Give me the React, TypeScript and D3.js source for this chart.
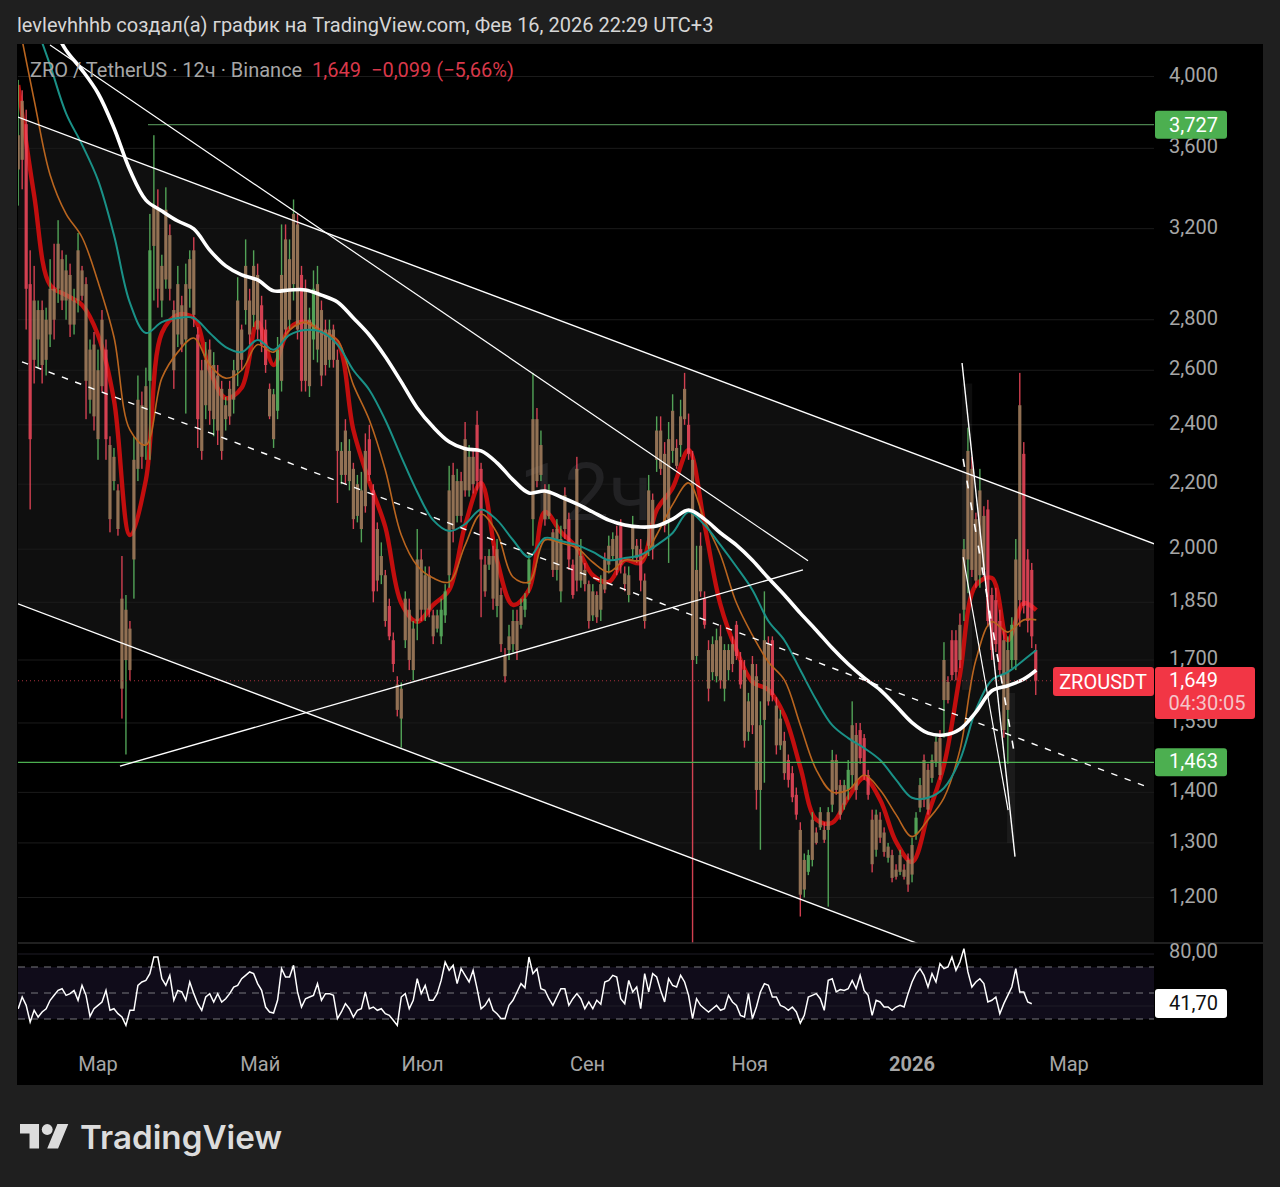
import * as d3 from "d3";

const WIDTH = 1280;
const HEIGHT = 1187;
const PANE = { left: 18, right: 1154, top: 44, bottom: 943, end: 1263, panelBottom: 1085 };
const FONT = "Roboto, sans-serif";
const GREEN = "#5dbb63";
const RED = "#f2495c";

// days are counted from 1 Mar 2025
const BAR_START = -30;
const BAR_STEP = 1.5;

const barHigh = [
  3.98, 3.92, 3.81, 3.10, 3.03, 2.88, 2.88, 2.85, 3.06, 3.13,
  3.24, 3.10, 3.08, 3.04, 2.93, 3.18, 3.03, 2.98, 2.72, 2.75,
  2.68, 2.84, 2.72, 2.36, 2.32, 2.20, 1.98, 1.87, 1.80, 2.36,
  2.58, 2.52, 2.61, 3.27, 3.67, 3.39, 3.08, 3.40, 3.22, 2.88,
  3.03, 2.90, 3.04, 3.10, 3.16, 2.77, 2.64, 2.71, 2.72, 2.67,
  2.62, 2.56, 2.50, 2.56, 2.64, 2.98, 2.78, 3.15, 2.93, 3.10,
  3.04, 2.90, 2.80, 2.55, 2.53, 2.73, 3.22, 3.22, 3.15, 3.34,
  3.27, 3.03, 2.97, 2.85, 3.01, 3.03, 2.88, 2.80, 2.80, 2.78,
  2.68, 2.34, 2.42, 2.35, 2.27, 2.23, 2.24, 2.37, 2.40, 2.20,
  2.08, 2.02, 1.94, 1.86, 1.77, 1.66, 1.645, 1.88, 1.86, 1.80,
  2.06, 2.00, 1.95, 1.95, 1.83, 1.83, 1.86, 1.90, 2.26, 2.27,
  2.25, 2.24, 2.41, 2.33, 2.32, 2.45, 2.27, 1.98, 2.00, 2.01,
  2.03, 1.89, 1.73, 1.79, 1.83, 1.83, 1.86, 1.875, 1.99, 2.59,
  2.46, 2.38, 2.20, 2.20, 2.06, 2.09, 2.07, 2.19, 2.11, 1.97,
  2.29, 2.03, 1.96, 1.91, 1.90, 1.88, 1.925, 1.99, 2.04, 2.05,
  2.07, 2.09, 1.95, 1.95, 2.10, 2.03, 2.03, 1.93, 2.23, 2.17,
  2.43, 2.43, 2.34, 2.41, 2.51, 2.35, 2.49, 2.59, 2.44, 2.31,
  2.01, 2.05, 1.88, 1.75, 1.76, 1.78, 1.79, 1.74, 1.74, 1.76,
  1.80, 1.72, 1.70, 1.62, 1.71, 1.69, 1.60, 1.88, 1.76, 1.76,
  1.61, 1.58, 1.53, 1.48, 1.455, 1.41, 1.34, 1.28, 1.287, 1.36,
  1.33, 1.37, 1.34, 1.37, 1.49, 1.48, 1.426, 1.426, 1.468, 1.60,
  1.55, 1.55, 1.525, 1.447, 1.365, 1.365, 1.36, 1.33, 1.30, 1.287,
  1.26, 1.287, 1.26, 1.28, 1.31, 1.36, 1.43, 1.48, 1.46, 1.48,
  1.52, 1.534, 1.745, 1.66, 1.776, 1.776, 1.82, 2.03, 2.39, 2.29,
  2.11, 2.25, 2.13, 2.15, 1.89, 1.89, 1.83, 1.776, 1.76, 1.81,
  2.03, 2.59, 2.34, 2.00, 1.96, 1.74,
];

const barLow = [
  3.31, 3.39, 2.76, 2.12, 2.55, 2.61, 2.55, 2.58, 2.69, 2.72,
  2.87, 2.84, 2.80, 2.73, 2.74, 2.83, 2.88, 2.42, 2.44, 2.38,
  2.28, 2.52, 2.28, 2.05, 2.18, 2.04, 1.56, 1.48, 1.65, 1.86,
  2.21, 2.25, 2.28, 2.28, 2.88, 2.85, 2.81, 2.93, 2.88, 2.53,
  2.69, 2.67, 2.44, 2.85, 2.77, 2.32, 2.28, 2.42, 2.40, 2.36,
  2.33, 2.28, 2.38, 2.40, 2.44, 2.54, 2.60, 2.78, 2.70, 2.77,
  2.72, 2.67, 2.59, 2.42, 2.32, 2.42, 2.52, 2.72, 2.76, 2.88,
  2.72, 2.52, 2.52, 2.50, 2.64, 2.63, 2.54, 2.58, 2.61, 2.61,
  2.14, 2.20, 2.20, 2.18, 2.06, 2.08, 2.02, 2.11, 2.21, 1.85,
  1.88, 1.90, 1.785, 1.75, 1.67, 1.565, 1.495, 1.73, 1.675, 1.65,
  1.75, 1.80, 1.80, 1.81, 1.74, 1.77, 1.74, 1.795, 1.89, 2.02,
  2.08, 2.08, 2.16, 2.16, 2.17, 2.18, 1.81, 1.865, 1.94, 1.83,
  1.81, 1.72, 1.645, 1.70, 1.72, 1.70, 1.78, 1.81, 1.875, 2.01,
  2.19, 2.21, 2.07, 2.09, 1.92, 1.91, 1.85, 2.03, 1.94, 1.86,
  1.88, 1.89, 1.88, 1.78, 1.80, 1.795, 1.80, 1.875, 1.93, 1.97,
  1.925, 1.93, 1.88, 1.85, 1.97, 1.96, 1.88, 1.78, 1.98, 1.97,
  2.24, 2.23, 2.05, 1.96, 2.27, 2.25, 2.29, 2.40, 2.28, 1.12,
  1.69, 1.865, 1.78, 1.60, 1.65, 1.645, 1.63, 1.60, 1.65, 1.67,
  1.70, 1.63, 1.495, 1.51, 1.525, 1.365, 1.287, 1.42, 1.59, 1.60,
  1.48, 1.49, 1.426, 1.41, 1.38, 1.345, 1.167, 1.20, 1.24, 1.256,
  1.297, 1.325, 1.30, 1.184, 1.36, 1.395, 1.345, 1.365, 1.385, 1.41,
  1.385, 1.46, 1.426, 1.385, 1.245, 1.274, 1.30, 1.274, 1.263, 1.227,
  1.232, 1.24, 1.232, 1.21, 1.227, 1.306, 1.36, 1.37, 1.355, 1.42,
  1.453, 1.426, 1.517, 1.595, 1.65, 1.65, 1.68, 1.80, 1.875, 1.92,
  1.89, 1.89, 1.92, 1.785, 1.70, 1.72, 1.66, 1.517, 1.46, 1.68,
  1.675, 1.785, 1.82, 1.77, 1.73, 1.615,
];

const barOpen = [
  3.49, 3.86, 3.73, 2.95, 2.88, 2.72, 2.84, 2.64, 2.74, 2.93,
  2.93, 3.06, 2.88, 2.99, 2.78, 2.88, 3.01, 2.95, 2.49, 2.70,
  2.35, 2.80, 2.68, 2.33, 2.21, 2.18, 1.86, 1.70, 1.78, 1.97,
  2.25, 2.47, 2.33, 2.56, 3.12, 3.29, 2.88, 2.97, 3.17, 2.84,
  2.74, 2.86, 2.72, 2.93, 3.10, 2.74, 2.60, 2.47, 2.68, 2.42,
  2.58, 2.53, 2.42, 2.53, 2.49, 2.60, 2.76, 2.84, 2.88, 2.82,
  2.99, 2.86, 2.76, 2.53, 2.35, 2.45, 2.56, 3.15, 2.80, 2.95,
  3.22, 2.99, 2.93, 2.54, 2.72, 2.68, 2.84, 2.76, 2.64, 2.76,
  2.64, 2.23, 2.38, 2.21, 2.25, 2.10, 2.06, 2.31, 2.35, 2.18,
  2.06, 1.925, 1.925, 1.84, 1.75, 1.64, 1.56, 1.75, 1.83, 1.675,
  1.80, 1.97, 1.83, 1.925, 1.815, 1.78, 1.76, 1.815, 1.925, 2.23,
  2.10, 2.21, 2.35, 2.18, 2.29, 2.40, 2.25, 1.955, 1.955, 1.98,
  1.84, 1.87, 1.71, 1.725, 1.74, 1.80, 1.79, 1.83, 1.90, 2.09,
  2.42, 2.23, 2.18, 2.10, 2.05, 1.94, 1.88, 2.165, 2.09, 1.955,
  2.25, 1.91, 1.94, 1.90, 1.815, 1.87, 1.83, 1.97, 1.955, 1.98,
  2.04, 2.07, 1.93, 1.87, 2.00, 2.01, 2.00, 1.91, 2.01, 2.15,
  2.28, 2.38, 2.30, 2.09, 2.31, 2.32, 2.33, 2.53, 2.40, 2.28,
  1.71, 2.01, 1.86, 1.725, 1.67, 1.66, 1.76, 1.63, 1.675, 1.74,
  1.79, 1.70, 1.675, 1.53, 1.69, 1.66, 1.405, 1.557, 1.74, 1.75,
  1.59, 1.50, 1.51, 1.468, 1.44, 1.395, 1.325, 1.214, 1.246, 1.268,
  1.32, 1.33, 1.325, 1.325, 1.375, 1.468, 1.415, 1.375, 1.405, 1.436,
  1.523, 1.534, 1.516, 1.436, 1.345, 1.287, 1.345, 1.32, 1.272, 1.277,
  1.25, 1.246, 1.25, 1.268, 1.241, 1.316, 1.369, 1.468, 1.447, 1.43,
  1.464, 1.516, 1.603, 1.646, 1.75, 1.75, 1.79, 1.83, 1.97, 2.25,
  2.09, 1.925, 2.10, 2.12, 1.87, 1.856, 1.80, 1.75, 1.58, 1.70,
  1.70, 2.47, 2.30, 1.97, 1.94, 1.725,
];

const barClose = [
  3.67, 3.54, 2.93, 2.35, 2.64, 2.84, 2.62, 2.80, 2.93, 2.80,
  3.13, 2.88, 3.01, 2.78, 2.88, 3.10, 2.90, 2.56, 2.68, 2.43,
  2.60, 2.54, 2.35, 2.09, 2.29, 2.06, 1.63, 1.83, 1.675, 2.28,
  2.49, 2.29, 2.54, 3.10, 3.31, 2.93, 3.03, 3.29, 2.93, 2.60,
  2.95, 2.70, 2.95, 3.06, 2.82, 2.42, 2.31, 2.64, 2.45, 2.62,
  2.38, 2.31, 2.47, 2.43, 2.60, 2.88, 2.64, 3.03, 2.74, 3.03,
  2.76, 2.70, 2.62, 2.43, 2.51, 2.68, 2.99, 2.76, 3.06, 3.27,
  2.76, 2.56, 2.56, 2.80, 2.93, 2.95, 2.58, 2.62, 2.76, 2.64,
  2.31, 2.31, 2.23, 2.31, 2.09, 2.20, 2.18, 2.13, 2.23, 1.88,
  1.91, 1.98, 1.80, 1.76, 1.69, 1.58, 1.63, 1.86, 1.70, 1.78,
  1.97, 1.83, 1.925, 1.83, 1.76, 1.815, 1.83, 1.88, 2.18, 2.06,
  2.21, 2.10, 2.18, 2.29, 2.20, 2.21, 1.97, 1.88, 1.98, 1.86,
  2.00, 1.74, 1.66, 1.76, 1.80, 1.725, 1.84, 1.86, 1.97, 2.42,
  2.21, 2.33, 2.09, 2.18, 1.94, 2.06, 2.03, 2.06, 1.97, 1.87,
  1.91, 1.98, 1.90, 1.80, 1.88, 1.81, 1.90, 1.885, 2.01, 2.03,
  1.94, 1.955, 1.90, 1.925, 2.07, 1.975, 1.91, 1.80, 2.18, 2.00,
  2.38, 2.25, 2.07, 2.35, 2.45, 2.26, 2.43, 2.42, 2.30, 1.70,
  1.94, 1.88, 1.79, 1.63, 1.74, 1.75, 1.65, 1.725, 1.725, 1.69,
  1.71, 1.64, 1.51, 1.60, 1.545, 1.405, 1.545, 1.75, 1.60, 1.615,
  1.50, 1.56, 1.44, 1.426, 1.39, 1.355, 1.205, 1.268, 1.277, 1.345,
  1.30, 1.36, 1.306, 1.36, 1.468, 1.405, 1.355, 1.415, 1.447, 1.545,
  1.405, 1.472, 1.436, 1.395, 1.26, 1.355, 1.31, 1.283, 1.293, 1.235,
  1.237, 1.277, 1.237, 1.223, 1.296, 1.349, 1.415, 1.385, 1.365, 1.468,
  1.508, 1.436, 1.70, 1.603, 1.663, 1.67, 1.70, 2.00, 2.31, 1.94,
  1.91, 2.18, 1.94, 1.80, 1.725, 1.74, 1.675, 1.534, 1.725, 1.79,
  1.97, 1.856, 1.84, 1.80, 1.76, 1.649,
];

// moving averages, read every 6 days; the last point is the live bar
const MA_LAST_DAY = 352.7;
const maRed = [
  3.95, 3.36, 2.946, 2.903, 2.861, 2.738, 2.489, 2.042, 2.214, 2.746,
  2.82, 2.807, 2.601, 2.496, 2.534, 2.791, 2.62, 2.766, 2.791, 2.75,
  2.71, 2.382, 2.207, 2.066, 1.848, 1.798, 1.843, 1.884, 2.072, 2.204,
  1.968, 1.843, 1.884, 2.112, 2.051, 2.004, 1.925, 1.906, 1.968, 1.96,
  2.118, 2.188, 2.313, 2.072, 1.843, 1.725, 1.646, 1.627, 1.568, 1.453,
  1.345, 1.339, 1.389, 1.43, 1.385, 1.302, 1.264, 1.355, 1.457, 1.663,
  1.897, 1.917, 1.75, 1.848, 1.829,
];
const maOrange = [
  4.345, 3.864, 3.462, 3.27, 3.16, 2.96, 2.73, 2.382, 2.33, 2.57,
  2.67, 2.726, 2.62, 2.57, 2.60, 2.70, 2.67, 2.758, 2.79, 2.75,
  2.718, 2.545, 2.417, 2.246, 2.042, 1.952, 1.917, 1.906, 2.012, 2.106,
  2.048, 1.92, 1.906, 2.027, 2.018, 2.004, 1.962, 1.934, 1.968, 1.968,
  2.042, 2.135, 2.204, 2.087, 1.983, 1.848, 1.763, 1.695, 1.651, 1.545,
  1.447, 1.401, 1.405, 1.436, 1.405, 1.355, 1.312, 1.345, 1.389, 1.49,
  1.70, 1.798, 1.771, 1.803, 1.803,
];
const maTeal = [
  4.656, 4.345, 4.067, 3.79, 3.62, 3.436, 3.17, 2.87, 2.746, 2.79,
  2.807, 2.807, 2.746, 2.69, 2.67, 2.718, 2.679, 2.738, 2.758, 2.75,
  2.70, 2.60, 2.526, 2.417, 2.29, 2.175, 2.087, 2.054, 2.075, 2.12,
  2.087, 2.027, 1.977, 2.033, 2.024, 2.012, 1.992, 1.968, 1.974, 1.983,
  2.012, 2.048, 2.112, 2.072, 2.012, 1.949, 1.884, 1.80, 1.75, 1.675,
  1.603, 1.545, 1.516, 1.494, 1.468, 1.426, 1.389, 1.389, 1.409, 1.468,
  1.58, 1.651, 1.67, 1.70, 1.725,
];
const maWhite = [
  4.676, 4.507, 4.333, 4.157, 4.038, 3.903, 3.709, 3.487, 3.337, 3.284,
  3.236, 3.199, 3.101, 3.03, 2.99, 2.968, 2.921, 2.925, 2.925, 2.903,
  2.874, 2.807, 2.738, 2.652, 2.556, 2.46, 2.392, 2.341, 2.317, 2.31,
  2.27, 2.214, 2.172, 2.178, 2.159, 2.137, 2.112, 2.087, 2.072, 2.066,
  2.069, 2.09, 2.118, 2.09, 2.048, 2.012, 1.968, 1.917, 1.87, 1.821,
  1.776, 1.73, 1.69, 1.656, 1.627, 1.589, 1.551, 1.527, 1.523, 1.536,
  1.575, 1.625, 1.637, 1.653, 1.675,
];

const rsiValues = [
  37.9, 46.9, 40.5, 27.7, 36.7, 31.5, 35.4, 37.9, 44.4, 48.2,
  52, 53.3, 48.2, 49.5, 52, 44.4, 55.9, 48.2, 32, 37.9,
  40.5, 43.1, 52, 36.7, 37.9, 34.1, 31.5, 25.1, 36.7, 36.7,
  55.9, 58.5, 59.7, 64.9, 77.7, 77.7, 61, 55.9, 63.6, 44.4,
  52, 50.8, 44.4, 58.5, 49.5, 41.8, 36.7, 46.9, 49.5, 43.1,
  49.5, 43.1, 45.6, 49.5, 54.6, 55.9, 61, 63.6, 66.2, 64.9,
  57.2, 52, 39.2, 35.4, 34.6, 44.4, 68.7, 62.3, 62.3, 71.3,
  50.8, 39.2, 45.6, 46.9, 48.2, 57.2, 44.4, 49.5, 49.5, 48.2,
  30.3, 35.4, 41.8, 37.9, 31.5, 36.7, 37.9, 50.8, 37.9, 39.2,
  36.7, 37.9, 34.1, 32.8, 29, 25.1, 46.9, 49.5, 37.9, 44.4,
  61, 49.5, 55.9, 44.4, 44.4, 49.5, 59.7, 73.8, 67.4, 71.3,
  57.2, 68.7, 63.6, 58.5, 67.4, 53.3, 37.9, 40.5, 45.6, 36.7,
  34.1, 30.3, 30.3, 40.5, 44.4, 50.8, 57.2, 54, 77.7, 64.9,
  68.7, 53.3, 52, 45.6, 40.5, 46.9, 53.3, 53.3, 40.5, 45.6,
  49.5, 45.6, 37.9, 43.1, 37.9, 44.4, 41.3, 58.5, 59.7, 63.6,
  62.3, 45.6, 41.8, 59.7, 50.8, 54.6, 37.9, 64.9, 50.8, 64.9,
  62.3, 52, 43.1, 61, 55.9, 54.6, 63.6, 58.5, 48.2, 30.3,
  45.6, 40.5, 37.9, 35.4, 37.9, 40.5, 36.7, 37.9, 48.2, 43.1,
  40.5, 32.8, 31.5, 49.5, 30.3, 39.2, 50.8, 57.2, 55.9, 46.9,
  46.9, 40.5, 39.2, 36.7, 39.2, 35.4, 26.9, 32.8, 46.9, 48.2,
  49.5, 45.6, 36.7, 59.7, 61, 50.8, 52.6, 52, 53.3, 59.7,
  53.3, 63.6, 52, 48.2, 32.8, 44.4, 43.1, 39.2, 39.2, 36.7,
  39.2, 40.5, 39.2, 49.5, 58.5, 64.9, 68.7, 63.6, 54.6, 64.9,
  58.5, 72.6, 68.7, 70, 77.7, 67.4, 73.8, 84.1, 66.2, 54.6,
  58.5, 61, 57.2, 43.1, 44.4, 46.9, 34.1, 41.8, 48.2, 54.6,
  68.7, 50.8, 50.8, 43.1, 41.7,
];

const priceTicks = [4, 3.6, 3.2, 2.8, 2.6, 2.4, 2.2, 2, 1.85, 1.7, 1.55, 1.4, 1.3, 1.2];
const rsiLevels = [70, 50, 30];
const rsiGrid = [80, 40];
const timeTicks = [
  { date: "2025-03-01", label: "Мар", bold: false },
  { date: "2025-05-01", label: "Май", bold: false },
  { date: "2025-07-01", label: "Июл", bold: false },
  { date: "2025-09-01", label: "Сен", bold: false },
  { date: "2025-11-01", label: "Ноя", bold: false },
  { date: "2026-01-01", label: "2026", bold: true },
  { date: "2026-03-01", label: "Мар", bold: false },
];

// drawn lines as [day, price] pairs
const channelTop = [[-30.08, 3.769], [397, 2.016]];
const channelBottom = [[-30.08, 1.846], [397, 0.984]];
const channelMid = [[-28.57, 2.632], [395.5, 1.409]];
const fallingLine = [[-18.05, 4.189], [266.9, 1.966]];
const risingLine = [[8.27, 1.455], [265, 1.94]];
const wedgeLong = [[324.8, 2.628], [344.7, 1.274]];
const wedgeShort = [[325.2, 1.977], [342.1, 1.364]];
const wedgeDashed = [[325.2, 2.283], [344.4, 1.484]];
const shadeBoxes = [
  [324.8, 328.6, 2.55, 1.627],
  [341.7, 344.7, 1.62, 1.3],
];

const LEVEL_HIGH = 3.727;
const LEVEL_HIGH_FROM = 18.8;
const LEVEL_LOW = 1.463;
const LAST_PRICE = 1.649;
const LAST_RSI = 41.7;

const x = d3
  .scaleUtc()
  .domain([new Date("2025-03-01"), new Date("2026-03-01")])
  .range([98, 1069]);
const y = d3.scaleLog().domain([4, 1.2]).range([76.5, 897.5]);
const rsiY = d3.scaleLinear().domain([30, 70]).range([1019, 967]);

const dayX = (day: number) => x(new Date(Date.UTC(2025, 2, 1) + day * 86400000));
const comma = (v: number, digits: number) => v.toFixed(digits).replace(".", ",");

const maDays = d3.range(0, maWhite.length - 1).map((i) => -30 + i * 6).concat(MA_LAST_DAY);
const maLine = d3
  .line<number>()
  .x((_, i) => dayX(maDays[i]))
  .y((d) => y(d))
  .curve(d3.curveCatmullRom.alpha(0.5));
const rsiLine = d3
  .line<number>()
  .x((_, i) => dayX(BAR_START + i * BAR_STEP))
  .y((d) => rsiY(d));

const segment = (pts: number[][]) => ({
  x1: dayX(pts[0][0]),
  y1: y(pts[0][1]),
  x2: dayX(pts[1][0]),
  y2: y(pts[1][1]),
});

const channelArea = [channelTop[0], channelTop[1], channelBottom[1], channelBottom[0]]
  .map((p) => `${dayX(p[0])},${y(p[1])}`)
  .join(" ");

// real candles are denser than these bars, so a bar between rising and falling
// neighbours takes the brown the overlapping candles blend to
const upAt = (i: number) => barClose[i] >= barOpen[i];
const bodyColor = (i: number) => {
  const left = i > 0 ? upAt(i - 1) : upAt(i);
  const right = i < barClose.length - 1 ? upAt(i + 1) : upAt(i);
  if (left === upAt(i) && right === upAt(i)) return upAt(i) ? GREEN : RED;
  return d3.interpolateRgb(GREEN, RED)(0.5);
};

export default function App() {
  return (
    <svg
      width={WIDTH}
      height={HEIGHT}
      viewBox={`0 0 ${WIDTH} ${HEIGHT}`}
      style={{ position: "absolute", left: 0, top: 0, display: "block", fontFamily: FONT }}
    >
      <defs>
        <clipPath id="main-pane">
          <rect x={PANE.left} y={PANE.top} width={PANE.right - PANE.left} height={PANE.bottom - PANE.top} />
        </clipPath>
        <clipPath id="rsi-pane">
          <rect x={PANE.left} y={PANE.bottom} width={PANE.right - PANE.left} height={100} />
        </clipPath>
      </defs>

      <rect width={WIDTH} height={HEIGHT} fill="#1f1f1f" />
      <rect
        x={PANE.left - 1}
        y={PANE.top}
        width={PANE.end - PANE.left + 1}
        height={PANE.panelBottom - PANE.top}
        fill="#000"
      />

      <text x={17} y={32} fontSize={20} fill="#d6d6d6">
        levlevhhhb создал(а) график на TradingView.com, Фев 16, 2026 22:29 UTC+3
      </text>

      <g clipPath="url(#main-pane)">
        <polygon points={channelArea} fill="#0f0f0f" />
        {priceTicks.map((p) => (
          <line key={p} x1={PANE.left} x2={PANE.right} y1={y(p)} y2={y(p)} stroke="#1b1b1b" />
        ))}
        <text x={586} y={520} fontSize={80} textAnchor="middle" fill="#222224">
          12ч
        </text>
        {shadeBoxes.map((b) => (
          <rect
            key={b[0]}
            x={dayX(b[0])}
            width={dayX(b[1]) - dayX(b[0])}
            y={y(b[2])}
            height={y(b[3]) - y(b[2])}
            fill="#fff"
            opacity={0.05}
          />
        ))}

        <path d={maLine(maRed)!} fill="none" stroke="#c20e0e" strokeWidth={4.4} />

        {barHigh.map((high, i) => {
          const cx = dayX(BAR_START + i * BAR_STEP);
          const open = barOpen[i];
          const close = barClose[i];
          const top = y(Math.max(open, close));
          return (
            <g key={i} opacity={0.86}>
              <rect
                x={cx - 0.7}
                width={1.4}
                y={y(high)}
                height={y(barLow[i]) - y(high)}
                fill={upAt(i) ? GREEN : RED}
              />
              <rect
                x={cx - 1.6}
                width={3.2}
                y={top}
                height={y(Math.min(open, close)) - top}
                fill={bodyColor(i)}
              />
            </g>
          );
        })}

        <path d={maLine(maOrange)!} fill="none" stroke="#b9651f" strokeWidth={1.6} />
        <path d={maLine(maTeal)!} fill="none" stroke="#1a9187" strokeWidth={2} />
        <path d={maLine(maWhite)!} fill="none" stroke="#fff" strokeWidth={3.6} />

        <line x1={dayX(LEVEL_HIGH_FROM)} x2={PANE.right} y1={y(LEVEL_HIGH)} y2={y(LEVEL_HIGH)} stroke="#5fa463" />
        <line x1={PANE.left} x2={PANE.right} y1={y(LEVEL_LOW)} y2={y(LEVEL_LOW)} stroke="#4caf50" strokeWidth={1.2} />
        <line
          x1={PANE.left}
          x2={1053}
          y1={y(LAST_PRICE)}
          y2={y(LAST_PRICE)}
          stroke="#a8323d"
          strokeDasharray="1 3"
        />

        <line {...segment(channelTop)} stroke="#fff" strokeWidth={1.4} />
        <line {...segment(channelBottom)} stroke="#fff" strokeWidth={1.4} />
        <line {...segment(channelMid)} stroke="#fff" strokeWidth={1.4} strokeDasharray="6.5 7.7" />
        <line {...segment(fallingLine)} stroke="#fff" strokeWidth={1.2} />
        <line {...segment(risingLine)} stroke="#fff" strokeWidth={1.4} />
        <line {...segment(wedgeLong)} stroke="#fff" strokeWidth={1.4} />
        <line {...segment(wedgeShort)} stroke="#fff" strokeWidth={1.2} />
        <line {...segment(wedgeDashed)} stroke="#fff" strokeWidth={1.6} strokeDasharray="8 14" />
      </g>

      <text x={30} y={77} fontSize={20} fill="#a6a6a6">
        ZRO / TetherUS · 12ч · Binance
      </text>
      <text x={312} y={77} fontSize={20} fill="#d8384a">
        1,649
      </text>
      <text x={371} y={77} fontSize={20} fill="#d8384a">
        −0,099 (−5,66%)
      </text>

      <line x1={PANE.left} x2={PANE.end} y1={PANE.bottom} y2={PANE.bottom} stroke="#2b2b2b" strokeWidth={1.5} />

      <g clipPath="url(#rsi-pane)">
        <rect
          x={PANE.left}
          width={PANE.right - PANE.left}
          y={rsiY(70)}
          height={rsiY(30) - rsiY(70)}
          fill="#100c1a"
        />
        {rsiGrid.map((v) => (
          <line key={v} x1={PANE.left} x2={PANE.right} y1={rsiY(v)} y2={rsiY(v)} stroke="#1f1d26" />
        ))}
        {rsiLevels.map((v) => (
          <line
            key={v}
            x1={PANE.left}
            x2={PANE.right}
            y1={rsiY(v)}
            y2={rsiY(v)}
            stroke="#77777c"
            strokeDasharray="7 6"
          />
        ))}
        <path d={rsiLine(rsiValues)!} fill="none" stroke="#fff" strokeWidth={1.5} />
      </g>

      {priceTicks.map((p) => (
        <text key={p} x={1218} y={y(p) + 5} fontSize={20} textAnchor="end" fill="#a6a6a6">
          {comma(p, 3)}
        </text>
      ))}
      <text x={1218} y={958} fontSize={20} textAnchor="end" fill="#a6a6a6">
        {comma(80, 2)}
      </text>

      {timeTicks.map((t) => (
        <text
          key={t.date}
          x={x(new Date(t.date))}
          y={1071}
          fontSize={20}
          textAnchor="middle"
          fill="#a6a6a6"
          fontWeight={t.bold ? 700 : 400}
        >
          {t.label}
        </text>
      ))}

      <rect x={1155} y={y(LEVEL_HIGH) - 14} width={72} height={28} rx={3} fill="#4caf50" />
      <text x={1218} y={y(LEVEL_HIGH) + 7} fontSize={20} textAnchor="end" fill="#fff">
        {comma(LEVEL_HIGH, 3)}
      </text>
      <rect x={1155} y={y(LEVEL_LOW) - 14} width={72} height={28} rx={3} fill="#4caf50" />
      <text x={1218} y={y(LEVEL_LOW) + 6} fontSize={20} textAnchor="end" fill="#fff">
        {comma(LEVEL_LOW, 3)}
      </text>

      <rect x={1053} y={667} width={101} height={29} rx={3} fill="#f23645" />
      <text x={1103} y={689} fontSize={20} textAnchor="middle" fill="#fff">
        ZROUSDT
      </text>
      <rect x={1155} y={667} width={100} height={52} rx={3} fill="#f23645" />
      <text x={1218} y={687} fontSize={20} textAnchor="end" fill="#fff">
        {comma(LAST_PRICE, 3)}
      </text>
      <text x={1207} y={710} fontSize={20} textAnchor="middle" fill="#f5c4c9">
        04:30:05
      </text>

      <rect x={1155} y={989} width={72} height={29} rx={3} fill="#fff" />
      <text x={1218} y={1010} fontSize={20} textAnchor="end" fill="#111">
        {comma(LAST_RSI, 2)}
      </text>

      <g transform="translate(20,1118.6) scale(1.36)" fill="#dcdcdc">
        <path d="M14 22H7V11H0V4h14v18zM28 22h-8l7.5-18h8L28 22z" />
        <circle cx={20} cy={8} r={4} />
      </g>
      <text x={80} y={1149} fontSize={33.2} fontWeight={600} fontFamily="Inter, sans-serif" fill="#dcdcdc">
        TradingView
      </text>
    </svg>
  );
}
